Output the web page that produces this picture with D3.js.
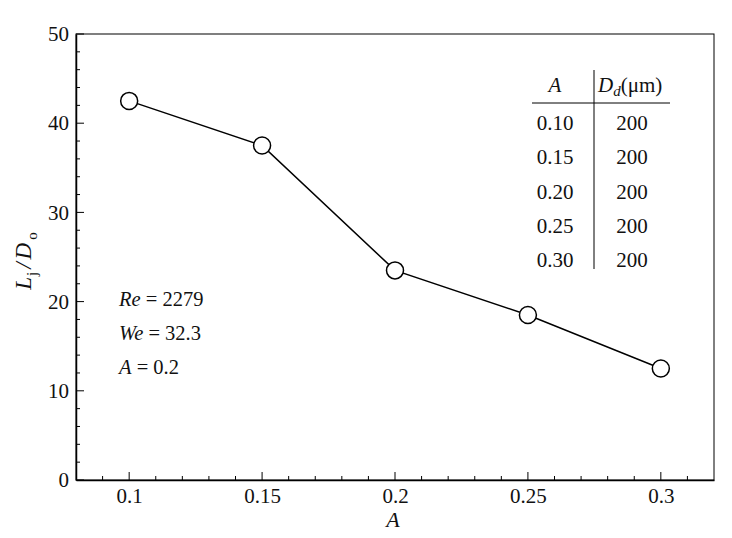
<!DOCTYPE html>
<html><head><meta charset="utf-8">
<script src="https://cdn.jsdelivr.net/npm/d3@7"></script>
<style>body{margin:0;background:#fff}</style>
</head><body>
<svg id="c" width="732" height="538"></svg>
<script>
const xValues = [0.10, 0.15, 0.20, 0.25, 0.30];
const yValues = [42.5, 37.5, 23.5, 18.5, 12.5];
const xTickLabels = ["0.1", "0.15", "0.2", "0.25", "0.3"];
const yTickValues = [0, 10, 20, 30, 40, 50];
const tableA = ["0.10", "0.15", "0.20", "0.25", "0.30"];
const tableD = ["200", "200", "200", "200", "200"];

const FONT = "Liberation Serif";
const svg = d3.select("#c");
const L = 76, R = 714, T = 34, B = 480;
const x = d3.scaleLinear().domain([0.08, 0.32]).range([L, R]);
const y = d3.scaleLinear().domain([0, 50]).range([B, T]);

// frame
svg.append("rect").attr("x", L).attr("y", T).attr("width", R - L).attr("height", B - T)
  .attr("fill", "none").attr("stroke", "#000").attr("stroke-width", 1);

// x axis
const xAxis = d3.axisBottom(x).tickValues(xValues).tickFormat((d, i) => xTickLabels[i]).tickSize(0).tickPadding(8);
const gx = svg.append("g").attr("transform", `translate(0,${B})`).call(xAxis);
gx.attr("font-family", FONT).attr("font-size", 21);
gx.select(".domain").attr("stroke", "#000").attr("stroke-width", 1.5);
gx.selectAll("text").attr("fill", "#111");
const xMinor = d3.range(9, 32).map(v => v / 100);
svg.append("g").selectAll("line").data(xMinor).join("line")
  .attr("x1", d => x(d)).attr("x2", d => x(d))
  .attr("y1", B).attr("y2", d => B - (Math.abs(d * 20 - Math.round(d * 20)) < 1e-6 ? 8 : 4))
  .attr("stroke", "#000").attr("stroke-width", 1);

// y axis
const yAxis = d3.axisLeft(y).tickValues(yTickValues).tickSize(0).tickPadding(7);
const gy = svg.append("g").attr("transform", `translate(${L},0)`).call(yAxis);
gy.attr("font-family", FONT).attr("font-size", 21);
gy.select(".domain").attr("stroke", "#000").attr("stroke-width", 1.5);
gy.selectAll("text").attr("fill", "#111");
const yMinor = d3.range(0, 51, 2);
svg.append("g").selectAll("line").data(yMinor).join("line")
  .attr("y1", d => y(d)).attr("y2", d => y(d))
  .attr("x1", L).attr("x2", d => L + (d % 10 === 0 ? 8 : 4))
  .attr("stroke", "#000").attr("stroke-width", 1);

function txt(xp, yp, size) {
  return svg.append("text").attr("x", xp).attr("y", yp)
    .attr("font-family", FONT).attr("font-size", size).attr("fill", "#111");
}

// axis titles
txt(393, 527, 22).attr("text-anchor", "middle").attr("font-style", "italic").text("A");
const yl = svg.append("text").attr("transform", `translate(31,261) rotate(-90)`)
  .attr("text-anchor", "middle").attr("font-family", FONT).attr("font-size", 23).attr("fill", "#111");
yl.append("tspan").attr("font-style", "italic").text("L");
yl.append("tspan").attr("dy", 6).attr("dx", 1).attr("font-size", 15).text("j");
yl.append("tspan").attr("dy", -6).attr("dx", 3).attr("font-style", "italic").text("/");
yl.append("tspan").attr("dx", 3).attr("font-style", "italic").text("D");
yl.append("tspan").attr("dy", 6).attr("dx", 3).attr("font-size", 15).text("o");

// line + markers
const pts = xValues.map((v, i) => [v, yValues[i]]);
svg.append("path").datum(pts)
  .attr("d", d3.line().x(d => x(d[0])).y(d => y(d[1])))
  .attr("fill", "none").attr("stroke", "#000").attr("stroke-width", 1.5);
svg.append("g").selectAll("circle").data(pts).join("circle")
  .attr("cx", d => x(d[0])).attr("cy", d => y(d[1])).attr("r", 8.5)
  .attr("fill", "#fff").attr("stroke", "#000").attr("stroke-width", 1.5);

// annotations
const ann = [["Re", " = 2279"], ["We", " = 32.3"], ["A", " = 0.2"]];
ann.forEach((a, i) => {
  const t = txt(119, 306 + i * 34, 20.5);
  t.append("tspan").attr("font-style", "italic").text(a[0]);
  t.append("tspan").text(a[1]);
});

// table
const c1 = 555, c2 = 632;
txt(c1, 92, 21).attr("text-anchor", "middle").attr("font-style", "italic").text("A");
const hd = txt(598, 92, 21);
hd.append("tspan").attr("font-style", "italic").text("D");
hd.append("tspan").attr("dy", 4).attr("font-size", 15).attr("font-style", "italic").text("d");
hd.append("tspan").attr("dy", -4).text("(μm)");
svg.append("line").attr("x1", 532).attr("x2", 670).attr("y1", 103).attr("y2", 103).attr("stroke", "#000");
svg.append("line").attr("x1", 594).attr("x2", 594).attr("y1", 70).attr("y2", 269).attr("stroke", "#000");
tableA.forEach((a, i) => {
  txt(c1, 130 + i * 34.3, 21).attr("text-anchor", "middle").text(a);
  txt(c2, 130 + i * 34.3, 21).attr("text-anchor", "middle").text(tableD[i]);
});
</script>
</body></html>
